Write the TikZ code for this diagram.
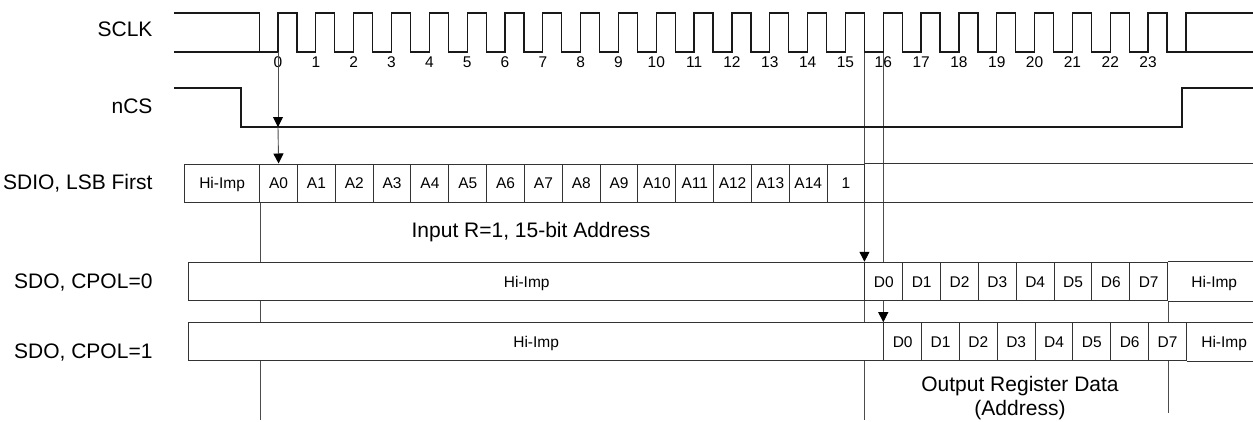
\documentclass[tikz,border=0pt]{standalone}
\usepackage{fontspec}
\setmainfont{Liberation Sans}
\usetikzlibrary{arrows.meta,backgrounds}
\begin{document}
\begin{tikzpicture}[x=1pt,y=-1pt,
  wave/.style={line width=1.3pt, black!90, line join=miter},
  cellline/.style={draw=black!80, line width=1pt},
  cell/.style={cellline, fill=white, rectangle, inner sep=0pt, minimum height=38pt, anchor=west,
               font=\fontsize{15.5}{18}\selectfont, text height=11pt, text depth=0pt},
  opencell/.style={rectangle, inner sep=0pt, minimum height=38pt, anchor=west,
               font=\fontsize{15.5}{18}\selectfont, text height=11pt, text depth=0pt},
  sig/.style={anchor=base east, font=\fontsize{21}{25}\selectfont},
  guide/.style={black!70, line width=0.9pt},
  arr/.style={guide, -{Triangle[length=10pt,width=10pt,color=black]}},
  ticklbl/.style={anchor=base, font=\fontsize{15.5}{18}\selectfont}]
\useasboundingbox (0,0) rectangle (1253,421);
\def\per{37.83}
\coordinate (redge) at (1253,0);
\coordinate (bot) at (0,420);
\coordinate (ncslow) at (241,127);
% clock edge coordinates
\foreach \k in {-1,...,24}{
  \pgfmathsetmacro\rx{278+\per*\k}
  \pgfmathsetmacro\fx{297+\per*\k}
  \coordinate (r\k) at (\rx,52);
  \coordinate (f\k) at (\fx,52);
}
% signal names
\node[sig] (lsclk) at (156,36) {SCLK};
\node[sig] (lncs) at (156,113) {nCS};
\node[sig] (lsdio) at (156,189.5) {SDIO, LSB First};
\node[sig] (lsdo0) at (156,288) {SDO, CPOL=0};
\node[sig] (lsdo1) at (156,358) {SDO, CPOL=1};
% SCLK
\draw[wave] (174,13) -| (f-1);
\draw[wave] (174,52) -- (r0)
  \foreach \k [evaluate=\k as \n using int(\k+1)] in {0,...,23} { -- ++(0,-39) -| (f\k) -- (r\n) }
  -- ++(0,-39) -- (1253,13);
\draw[wave] (r24) -- (r24 -| redge);
\foreach \k in {0,...,23}{
  \node[ticklbl] (t\k) at ([yshift=-15pt]r\k) {\k};
}
% nCS
\draw[wave] (174,88) -| (ncslow) -| (1182,88) -- (1253,88);
% SDIO
\pgfmathsetmacro\w{297-\per-184}
\node[cell, minimum width=\w pt] (sh) at (184,183) {Hi-Imp};
\foreach \k in {0,...,14}{
  \pgfmathsetmacro\x{297+\per*(\k-1)}
  \node[cell, minimum width=\per pt] (a\k) at (\x,183) {A\k};
}
\pgfmathsetmacro\x{297+\per*14}
\node[cell, minimum width=\per pt] (rbit) at (\x,183) {1};
\draw[cellline] (rbit.north east) -- (rbit.north east -| redge);
\draw[cellline] (rbit.south east) -- (rbit.south east -| redge);
% SDO CPOL=0
\pgfmathsetmacro\w{297+\per*15-188}
\node[cell, minimum height=38.5pt, minimum width=\w pt] (zh) at (188,281.5) {Hi-Imp};
\foreach \k in {0,...,7}{
  \pgfmathsetmacro\x{297+\per*(15+\k)}
  \node[cell, minimum height=38.5pt, minimum width=\per pt] (dz\k) at (\x,281.5) {D\k};
}
\node[opencell, minimum height=38.5pt, minimum width=92pt] (zt) at (dz7.east) {Hi-Imp};
\draw[cellline] (dz7.north east) -- (dz7.north east -| redge);
\draw[cellline] (dz7.south east) -- (dz7.south east -| redge);
% SDO CPOL=1
\pgfmathsetmacro\w{278+\per*16-188}
\node[cell, minimum width=\w pt] (oh) at (188,341.7) {Hi-Imp};
\foreach \k in {0,...,7}{
  \pgfmathsetmacro\x{278+\per*(16+\k)}
  \node[cell, minimum width=\per pt] (do\k) at (\x,341.7) {D\k};
}
\node[opencell, minimum width=74pt] (ot) at (do7.east) {Hi-Imp};
\draw[cellline] (do7.north east) -- (do7.north east -| redge);
\draw[cellline] (do7.south east) -- (do7.south east -| redge);
% guide lines behind the cells
\begin{scope}[on background layer]
  \draw[guide] (sh.south east) -- (sh.south east |- bot);
  \draw[guide] (dz0.north west) -- (dz0.north west |- bot);
  \draw[arr] (f15) -- (dz0.north west);
  \draw[arr] (r16) -- (do0.north west);
  \draw[guide] (dz7.south east) -- ([yshift=-112pt]dz7.south east);
\end{scope}
% arrow from clock edge 0
\draw[arr] (r0) -- (r0 |- ncslow);
\draw[arr] (r0 |- ncslow) -- (a0.north);
% annotations
\node[anchor=base, font=\fontsize{21}{25}\selectfont] (inlbl) at (531,237) {Input R=1, 15-bit Address};
\node[align=center, font=\fontsize{21}{24.5}\selectfont] (outlbl) at (1020,398) {Output Register Data\\(Address)};
\end{tikzpicture}
\end{document}
